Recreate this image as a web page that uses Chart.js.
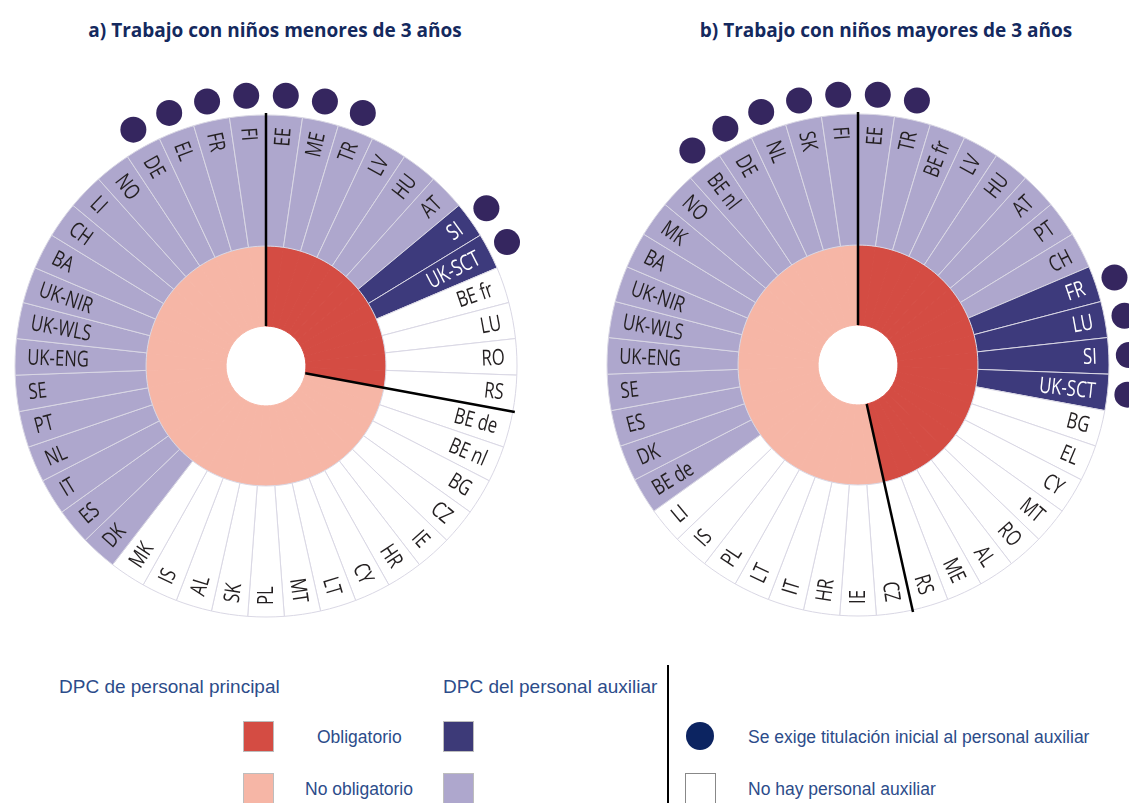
<!DOCTYPE html>
<html>
<head>
<meta charset="utf-8">
<script src="https://cdn.jsdelivr.net/npm/chart.js@4.4.1/dist/chart.umd.min.js"></script>
<style>
  body { margin: 0; width: 1129px; height: 803px; overflow: hidden; background: #fff; position: relative; }
  canvas { position: absolute; }
  .title { position: absolute; top: 17px; width: 560px; text-align: center; font: bold 19px/26px "Open Sans", sans-serif; color: #14295e; }
  .lg { position: absolute; font-family: "Liberation Sans", Arial, sans-serif; color: #2c4c8a; white-space: nowrap; line-height: 1; }
  .head { font-size: 19px; }
  .item { font-size: 17.5px; }
  .box { position: absolute; width: 29px; height: 29px; border: 1px solid #bdbdbd; }
</style>
</head>
<body>
<div class="title" style="left:-5px">a) Trabajo con niños menores de 3 años</div>
<div class="title" style="left:606px">b) Trabajo con niños mayores de 3 años</div>

<canvas id="chartA" width="600" height="600" style="left:-34px; top:66px"></canvas>
<canvas id="chartB" width="600" height="600" style="left:558px; top:65px"></canvas>

<div class="lg head" style="left:59px; top:677px">DPC de personal principal</div>
<div class="lg head" style="left:443px; top:677px">DPC del personal auxiliar</div>
<div class="box" style="left:243px; top:721px; background:#d44c43"></div>
<div class="lg item" style="left:317px; top:729px">Obligatorio</div>
<div class="box" style="left:443px; top:721px; background:#3d3a78"></div>
<div class="box" style="left:243px; top:773px; background:#f6b6a6"></div>
<div class="lg item" style="left:305px; top:781px">No obligatorio</div>
<div class="box" style="left:443px; top:773px; background:#aea7cd"></div>
<div style="position:absolute; left:667px; top:665px; width:2px; height:140px; background:#000"></div>
<div style="position:absolute; left:686px; top:722px; width:28px; height:28px; border-radius:50%; background:#0c2461"></div>
<div class="lg item" style="left:748px; top:729px">Se exige titulación inicial al personal auxiliar</div>
<div class="box" style="left:685px; top:773px; background:#fff; border-color:#888"></div>
<div class="lg item" style="left:748px; top:781px">No hay personal auxiliar</div>

<script>
// a) under 3s - clockwise from the top
var countriesA = ['EE','ME','TR','LV','HU','AT','SI','UK-SCT','BE fr','LU','RO','RS',
  'BE de','BE nl','BG','CZ','IE','HR','CY','LT','MT','PL','SK','AL','IS','MK',
  'DK','ES','IT','NL','PT','SE','UK-ENG','UK-WLS','UK-NIR','BA','CH','LI','NO','DE','EL','FR','FI'];
// principal staff CPD: O = compulsory, N = not compulsory
var principalA = ['O','O','O','O','O','O','O','O','O','O','O','O',
  'N','N','N','N','N','N','N','N','N','N','N','N','N','N',
  'N','N','N','N','N','N','N','N','N','N','N','N','N','N','N','N','N'];
// auxiliary staff CPD: O = compulsory, N = not compulsory, X = no auxiliary staff
var auxA = ['N','N','N','N','N','N','O','O','X','X','X','X',
  'X','X','X','X','X','X','X','X','X','X','X','X','X','X',
  'N','N','N','N','N','N','N','N','N','N','N','N','N','N','N','N','N'];
var dotsA = ['DE','EL','FR','FI','EE','ME','TR','SI','UK-SCT'];

// b) over 3s
var countriesB = ['EE','TR','BE fr','LV','HU','AT','PT','CH','FR','LU','SI','UK-SCT',
  'BG','EL','CY','MT','RO','AL','ME','RS','CZ','IE','HR','IT','LT','PL','IS','LI',
  'BE de','DK','ES','SE','UK-ENG','UK-WLS','UK-NIR','BA','MK','NO','BE nl','DE','NL','SK','FI'];
var principalB = ['O','O','O','O','O','O','O','O','O','O','O','O',
  'O','O','O','O','O','O','O','O','N','N','N','N','N','N','N','N',
  'N','N','N','N','N','N','N','N','N','N','N','N','N','N','N'];
var auxB = ['N','N','N','N','N','N','N','N','O','O','O','O',
  'X','X','X','X','X','X','X','X','X','X','X','X','X','X','X','X',
  'N','N','N','N','N','N','N','N','N','N','N','N','N','N','N'];
var dotsB = ['BE nl','DE','NL','SK','FI','EE','TR','FR','LU','SI','UK-SCT'];

var principalColors = { O: '#d44c43', N: '#f6b6a6' };
var auxColors = { O: '#3d3a7c', N: '#aea7cd', X: '#ffffff' };
var labelFont = '22px "Open Sans", sans-serif';
var labelSqueeze = 0.76;   // condensed look

var ringDecor = {
  id: 'ringDecor',
  afterDatasetsDraw: function(chart) {
    var o = chart.options.plugins.ringDecor;
    var ctx = chart.ctx;
    var outer = chart.getDatasetMeta(0).data;
    var inner = chart.getDatasetMeta(1).data;
    var n = outer.length;
    ctx.save();

    // black separators where principal status changes
    ctx.strokeStyle = '#000';
    ctx.lineWidth = 2.5;
    for (var i = 0; i < n; i++) {
      var j = (i + 1) % n;
      if (o.principal[i] != o.principal[j]) {
        var a = inner[i].endAngle;
        var c = inner[i];
        ctx.beginPath();
        ctx.moveTo(c.x + Math.cos(a) * c.innerRadius, c.y + Math.sin(a) * c.innerRadius);
        ctx.lineTo(c.x + Math.cos(a) * (outer[i].outerRadius + 2), c.y + Math.sin(a) * (outer[i].outerRadius + 2));
        ctx.stroke();
      }
    }

    // country labels
    ctx.font = labelFont;
    ctx.textBaseline = 'middle';
    outer.forEach(function(arc, k) {
      var mid = (arc.startAngle + arc.endAngle) / 2;
      var fromTop = mid + Math.PI / 2;
      var r = (arc.outerRadius - 12) / labelSqueeze;
      ctx.save();
      ctx.translate(arc.x, arc.y);
      ctx.fillStyle = o.aux[k] == 'O' ? '#fff' : '#231f20';
      if (fromTop <= Math.PI) {
        ctx.rotate(mid);
        ctx.scale(labelSqueeze, 1);
        ctx.textAlign = 'right';
        ctx.fillText(o.countries[k], r, 1);
      } else {
        ctx.rotate(mid + Math.PI);
        ctx.scale(labelSqueeze, 1);
        ctx.textAlign = 'left';
        ctx.fillText(o.countries[k], -r, 1);
      }
      ctx.restore();
    });

    // dots: initial qualification required for auxiliary staff
    ctx.fillStyle = '#35265f';
    outer.forEach(function(arc, k) {
      if (o.dots.indexOf(o.countries[k]) < 0) return;
      var mid = (arc.startAngle + arc.endAngle) / 2;
      var r = arc.outerRadius + 20;
      ctx.beginPath();
      ctx.arc(arc.x + Math.cos(mid) * r, arc.y + Math.sin(mid) * r, 13, 0, Math.PI * 2);
      ctx.fill();
    });
    ctx.restore();
  }
};

function makeRing(id, countries, principal, aux, dots) {
  var ones = countries.map(function() { return 1; });
  var pCols = principal.map(function(p) { return principalColors[p]; });
  return new Chart(document.getElementById(id), {
    type: 'doughnut',
    data: {
      labels: countries,
      datasets: [
        {
          data: ones,
          backgroundColor: aux.map(function(a) { return auxColors[a]; }),
          borderColor: '#d9d7e4',
          borderWidth: 1,
          weight: 131
        },
        {
          data: ones,
          backgroundColor: pCols,
          borderColor: pCols,
          borderWidth: 1,
          weight: 80
        }
      ]
    },
    options: {
      responsive: false,
      animation: false,
      events: [],
      radius: 251,
      cutout: '15.9%',
      plugins: {
        legend: { display: false },
        tooltip: { enabled: false },
        ringDecor: { countries: countries, principal: principal, aux: aux, dots: dots }
      }
    },
    plugins: [ringDecor]
  });
}

makeRing('chartA', countriesA, principalA, auxA, dotsA);
makeRing('chartB', countriesB, principalB, auxB, dotsB);
</script>
</body>
</html>
